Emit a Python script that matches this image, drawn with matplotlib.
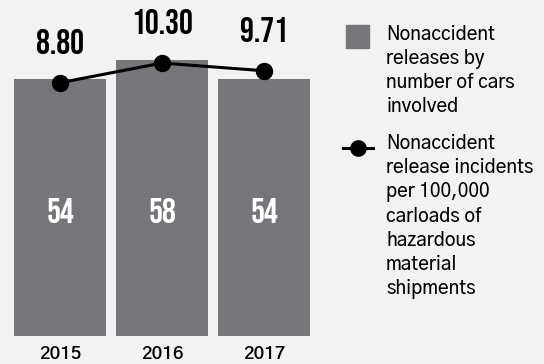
import matplotlib
matplotlib.use("Agg")
import matplotlib.pyplot as plt
from matplotlib.lines import Line2D
from matplotlib.patches import Rectangle

# data
years = ["2015", "2016", "2017"]
cars_involved = [54, 58, 54]
incident_rate = [8.80, 10.30, 9.71]
bar_label = "Nonaccident\nreleases by\nnumber of cars\ninvolved"
line_label = ("Nonaccident\nrelease incidents\nper 100,000\ncarloads of\n"
              "hazardous\nmaterial\nshipments")

BG = "#f2f2f2"
GRAY = "#76767a"
NUM_FONT = "Bebas Neue"
TXT_FONT = "Gothic A1"

W, H = 544, 364
fig = plt.figure(figsize=(W / 100, H / 100), dpi=100, facecolor=BG)
ax = fig.add_axes([9 / W, 28 / H, 306 / W, 336 / H])
ax.set_facecolor("none")
x = range(len(years))

bars = ax.bar(x, cars_involved, width=0.9, color=GRAY)
ax.set_xlim(-0.5, 2.5)
ax.set_ylim(0, 70.6)
for b, v in zip(bars, cars_involved):
    ax.text(b.get_x() + b.get_width() / 2, 26.4, str(v), ha="center", va="center",
            color="white", fontsize=25, family=NUM_FONT)

ax.set_xticks(list(x), years)
ax.tick_params(axis="x", length=0, pad=6.5)
for lab in ax.get_xticklabels():
    lab.set_fontfamily(TXT_FONT)
    lab.set_fontsize(13.3)
    lab.set_fontweight(600)
ax.set_yticks([])
for s in ax.spines.values():
    s.set_visible(False)

# rate on a second scale
ax2 = ax.twinx()
ax2.set_ylim(-10.49, 15.10)
ax2.plot(list(x), incident_rate, color="black", lw=2.2, marker="o", markersize=11.5)
for i, v in enumerate(incident_rate):
    ax2.annotate(f"{v:.2f}", (i, v), xytext=(0, 30), textcoords="offset points",
                 ha="center", va="center", fontsize=25, family=NUM_FONT)
ax2.set_yticks([])
for s in ax2.spines.values():
    s.set_visible(False)

# legend drawn by hand
fig.patches.append(Rectangle((346 / W, 1 - 48 / H), 23 / W, 23 / H,
                             transform=fig.transFigure, color=GRAY))
fig.lines.append(Line2D([343 / W, 373 / W], [1 - 147.7 / H] * 2, transform=fig.transFigure,
                        color="black", lw=2.2))
fig.lines.append(Line2D([358 / W], [1 - 147.7 / H], transform=fig.transFigure,
                        color="black", marker="o", markersize=11))
fig.text(386 / W, 1 - 24.5 / H, bar_label, va="top", ha="left", fontsize=13.5,
         family=TXT_FONT, fontweight=500, linespacing=1.28)
fig.text(386 / W, 1 - 134 / H, line_label, va="top", ha="left", fontsize=13.5,
         family=TXT_FONT, fontweight=500, linespacing=1.28)

fig.savefig("out.png", facecolor=BG)
